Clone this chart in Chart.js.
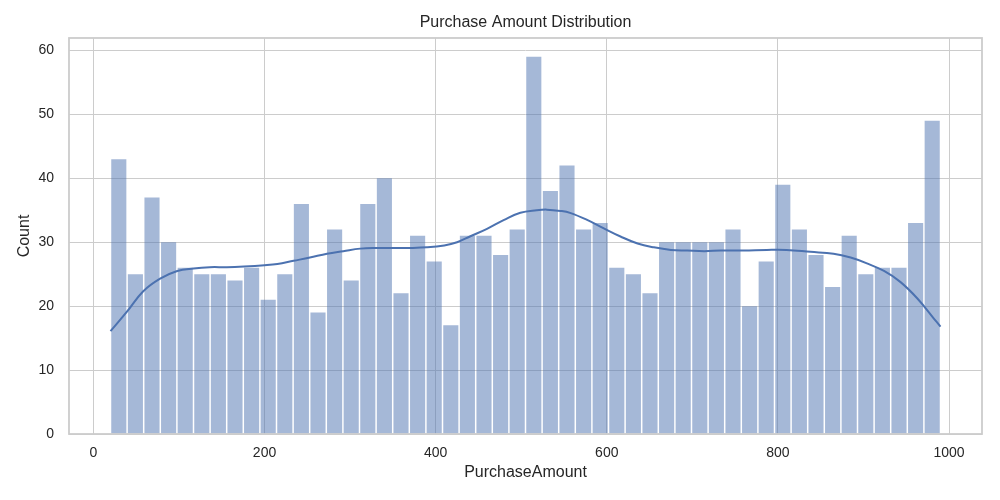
<!DOCTYPE html>
<html>
<head>
<meta charset="utf-8">
<script src="https://cdn.jsdelivr.net/npm/chart.js@4.4.1/dist/chart.umd.min.js"></script>
<style>
  html, body { margin: 0; padding: 0; background: #ffffff; }
  #wrap { width: 1000px; height: 500px; }
</style>
</head>
<body>
<div id="wrap"><canvas id="c" width="1000" height="500"></canvas></div>
<script>
// ---- data ----
const binMin = 20;
const binMax = 990;
const counts = [43, 25, 37, 30, 26, 25, 25, 24, 26, 21,
                25, 36, 19, 32, 24, 36, 40, 22, 31, 27,
                17, 31, 31, 28, 32, 59, 38, 42, 32, 33,
                26, 25, 22, 30, 30, 30, 30, 32, 20, 27,
                39, 32, 28, 23, 31, 25, 26, 26, 33, 49];
const kdeX = [20, 39, 58, 78, 98, 117, 136, 156, 176, 200, 215, 234, 253, 273, 292, 312, 331, 351, 370, 390,
              410, 425, 440, 460, 480, 499, 518, 530, 546, 557, 577, 596, 616, 636, 655, 675, 694, 714, 733, 760,
              787, 810, 838, 865, 885, 904, 924, 943, 963, 982, 990];
const kdeY = [16.1, 19.1, 22.3, 24.3, 25.5, 25.9, 26.1, 26.1, 26.2, 26.4, 26.6, 27.1, 27.6, 28.2, 28.6, 29.0, 29.1, 29.1, 29.1, 29.2,
              29.5, 30.0, 30.9, 32.1, 33.5, 34.6, 35.0, 35.1, 34.9, 34.6, 33.5, 32.2, 30.9, 29.8, 29.2, 28.8, 28.7, 28.6, 28.7, 28.7,
              28.8, 28.8, 28.5, 28.2, 27.6, 26.7, 25.5, 23.8, 21.2, 18.1, 16.8];
const xTicks = [0, 200, 400, 600, 800, 1000];
const yTicks = [0, 10, 20, 30, 40, 50, 60];

// ---- derived ----
const binWidth = (binMax - binMin) / counts.length;
const barPoints = counts.map((c, i) => ({ x: binMin + binWidth * (i + 0.5), y: c }));
const kdePoints = kdeX.map((x, i) => ({ x: x, y: kdeY[i] }));
const xPad = (binMax - binMin) * 0.05;
const yMax = Math.max(...counts) * 1.05;

const textColor = '#262626';
const gridColor = '#cccccc';
const fontFamily = '"Liberation Sans", Arial, Helvetica, sans-serif';

const frame = {
  id: 'frame',
  afterDatasetsDraw(chart) {
    const a = chart.chartArea, ctx = chart.ctx;
    ctx.save();
    ctx.strokeStyle = gridColor;
    ctx.lineWidth = 1.8;
    ctx.strokeRect(a.left, a.top, a.right - a.left, a.bottom - a.top);
    ctx.restore();
  }
};

new Chart(document.getElementById('c'), {
  type: 'bar',
  data: {
    datasets: [
      {
        type: 'line',
        data: kdePoints,
        borderColor: '#4c72b0',
        borderWidth: 2,
        pointRadius: 0,
        fill: false,
        tension: 0.4
      },
      {
        type: 'bar',
        data: barPoints,
        backgroundColor: 'rgba(76,114,176,0.5)',
        borderWidth: 0,
        barPercentage: 0.91,
        categoryPercentage: 1.0
      }
    ]
  },
  options: {
    responsive: false,
    animation: false,
    devicePixelRatio: 1,
    layout: { padding: { left: 0, right: 18, top: 0, bottom: 0 } },
    plugins: {
      legend: { display: false },
      tooltip: { enabled: false },
      title: {
        display: true,
        text: 'Purchase Amount Distribution',
        fullSize: false,
        color: textColor,
        font: { family: fontFamily, size: 16, weight: 'normal', lineHeight: 1.2 },
        padding: { top: 13.4, bottom: 5.4 }
      }
    },
    scales: {
      x: {
        type: 'linear',
        min: binMin - xPad,
        max: binMax + xPad,
        offset: false,
        afterBuildTicks: s => { s.ticks = xTicks.map(v => ({ value: v })); },
        afterFit: s => { s.height = 66; },
        grid: { color: gridColor, lineWidth: 1, drawTicks: false, offset: false },
        border: { display: false },
        ticks: { color: textColor, padding: 10.6, font: { family: fontFamily, size: 14 }, maxRotation: 0,
                 callback: v => String(v) },
        title: {
          display: true,
          text: 'PurchaseAmount',
          color: textColor,
          font: { family: fontFamily, size: 16, lineHeight: 1.2 },
          padding: { top: 0, bottom: 17.4 }
        }
      },
      y: {
        type: 'linear',
        min: 0,
        max: yMax,
        afterBuildTicks: s => { s.ticks = yTicks.map(v => ({ value: v })); },
        afterFit: s => { s.width = 69; },
        grid: { color: gridColor, lineWidth: 1, drawTicks: false },
        border: { display: false },
        ticks: { color: textColor, padding: 15, font: { family: fontFamily, size: 14 },
                 callback: v => String(v) },
        title: {
          display: true,
          text: 'Count',
          color: textColor,
          font: { family: fontFamily, size: 16, lineHeight: 1.2 },
          padding: { top: 15.4, bottom: 0 }
        }
      }
    }
  },
  plugins: [frame]
});
</script>
</body>
</html>
